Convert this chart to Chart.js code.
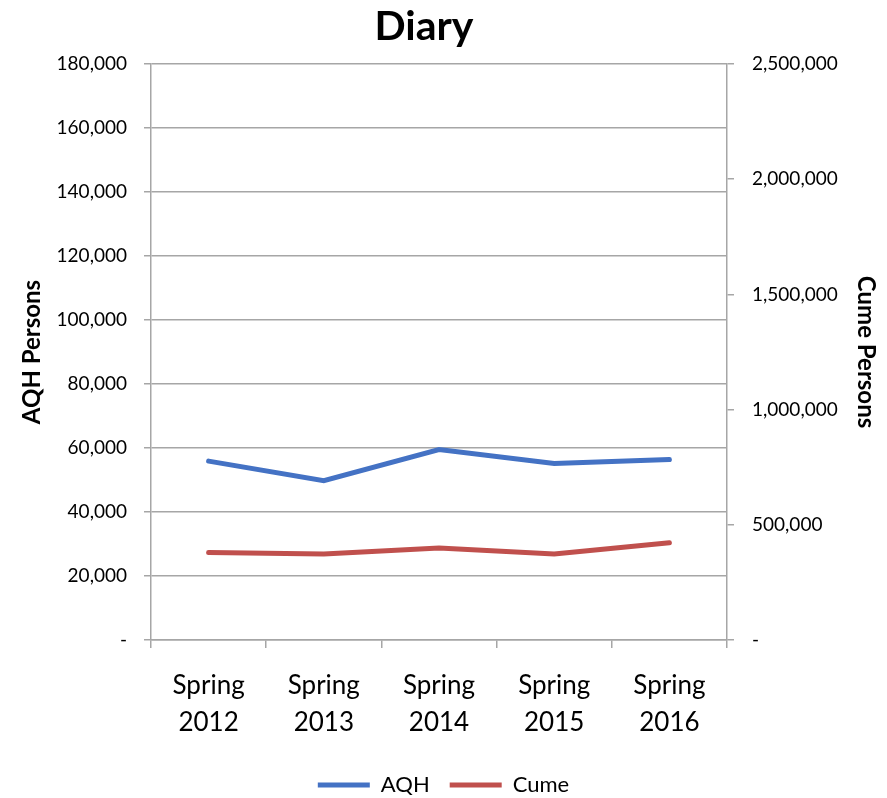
<!DOCTYPE html>
<html>
<head>
<meta charset="utf-8">
<script src="https://cdn.jsdelivr.net/npm/chart.js@4/dist/chart.umd.min.js"></script>
<style>
  html, body { margin: 0; padding: 0; background: #fff; }
  #wrap { width: 887px; height: 798px; }
</style>
</head>
<body>
<div id="wrap"><canvas id="diaryChart" width="887" height="798"></canvas></div>
<script>
const seasons = [['Spring', '2012'], ['Spring', '2013'], ['Spring', '2014'], ['Spring', '2015'], ['Spring', '2016']];
const aqhPersons = [55900, 49800, 59500, 55150, 56400];
const cumePersons = [380000, 373000, 399000, 373000, 422000];
const aqhTicks = [0, 20000, 40000, 60000, 80000, 100000, 120000, 140000, 160000, 180000];
const cumeTicks = [0, 500000, 1000000, 1500000, 2000000, 2500000];
const chartTitle = 'Diary';

const gridGray = '#a6a6a6';
const fontFamily = 'Lato, "Open Sans", sans-serif';

function fmt(v) {
  return v === 0 ? '-' : v.toLocaleString('en-US');
}

// title sits a little left of the canvas centre, so draw it ourselves
const titlePlugin = {
  id: 'diaryTitle',
  afterDraw(chart) {
    const c = chart.ctx;
    c.save();
    c.font = 'bold 41px ' + fontFamily;
    c.fillStyle = '#000';
    c.textAlign = 'center';
    c.textBaseline = 'alphabetic';
    c.fillText(chartTitle, 424, 40);
    c.restore();
  }
};

const ctx = document.getElementById('diaryChart').getContext('2d');
const diaryChart = new Chart(ctx, {
  type: 'line',
  data: {
    labels: seasons,
    datasets: [{
      label: 'AQH',
      data: aqhPersons,
      borderColor: '#4472c4',
      backgroundColor: '#4472c4',
      borderWidth: 5,
      borderCapStyle: 'round',
      pointRadius: 0,
      pointStyle: 'line',
      tension: 0,
      yAxisID: 'yAqh'
    }, {
      label: 'Cume',
      data: cumePersons,
      borderColor: '#c0504d',
      backgroundColor: '#c0504d',
      borderWidth: 5,
      borderCapStyle: 'round',
      pointRadius: 0,
      pointStyle: 'line',
      tension: 0,
      yAxisID: 'yCume'
    }]
  },
  plugins: [titlePlugin],
  options: {
    responsive: false,
    animation: false,
    // negative bottom padding pulls the legend closer to the canvas edge
    layout: { padding: { left: 0, right: 0, top: 64, bottom: -8 } },
    plugins: {
      title: { display: false },
      legend: {
        position: 'bottom',
        labels: {
          color: '#000',
          usePointStyle: true,
          pointStyleWidth: 52,
          boxHeight: 5,
          padding: 20,
          font: { family: fontFamily, size: 22 }
        }
      },
      tooltip: { enabled: false }
    },
    scales: {
      x: {
        offset: true,
        afterFit: axis => { axis.height = 114; },
        grid: { offset: true, drawOnChartArea: false, color: gridGray, lineWidth: 1.5, tickLength: 8 },
        border: { color: gridGray, width: 1.5 },
        ticks: { color: '#000', padding: 19, font: { family: fontFamily, size: 26, lineHeight: 1.42 } }
      },
      yAqh: {
        position: 'left',
        min: 0,
        max: 180000,
        afterBuildTicks: axis => { axis.ticks = aqhTicks.map(v => ({ value: v })); },
        afterFit: axis => { axis.width = 151; },
        grid: { color: gridGray, lineWidth: 1.5, tickLength: 7 },
        border: { color: gridGray, width: 1.5 },
        ticks: { color: '#000', padding: 17, callback: fmt, font: { family: fontFamily, size: 19 } },
        title: {
          display: true,
          text: 'AQH Persons',
          color: '#000',
          padding: { top: 18, bottom: 0 },
          font: { family: fontFamily, size: 24, weight: 'bold' }
        }
      },
      yCume: {
        position: 'right',
        min: 0,
        max: 2500000,
        afterBuildTicks: axis => { axis.ticks = cumeTicks.map(v => ({ value: v })); },
        afterFit: axis => { axis.width = 160; },
        grid: { drawOnChartArea: false, color: gridGray, lineWidth: 1.5, tickLength: 7 },
        border: { color: gridGray, width: 1.5 },
        ticks: { color: '#000', padding: 18, callback: fmt, font: { family: fontFamily, size: 19 } },
        title: {
          display: true,
          text: 'Cume Persons',
          color: '#000',
          padding: { top: 7, bottom: 0 },
          font: { family: fontFamily, size: 24, weight: 'bold' }
        }
      }
    }
  }
});
</script>
</body>
</html>
